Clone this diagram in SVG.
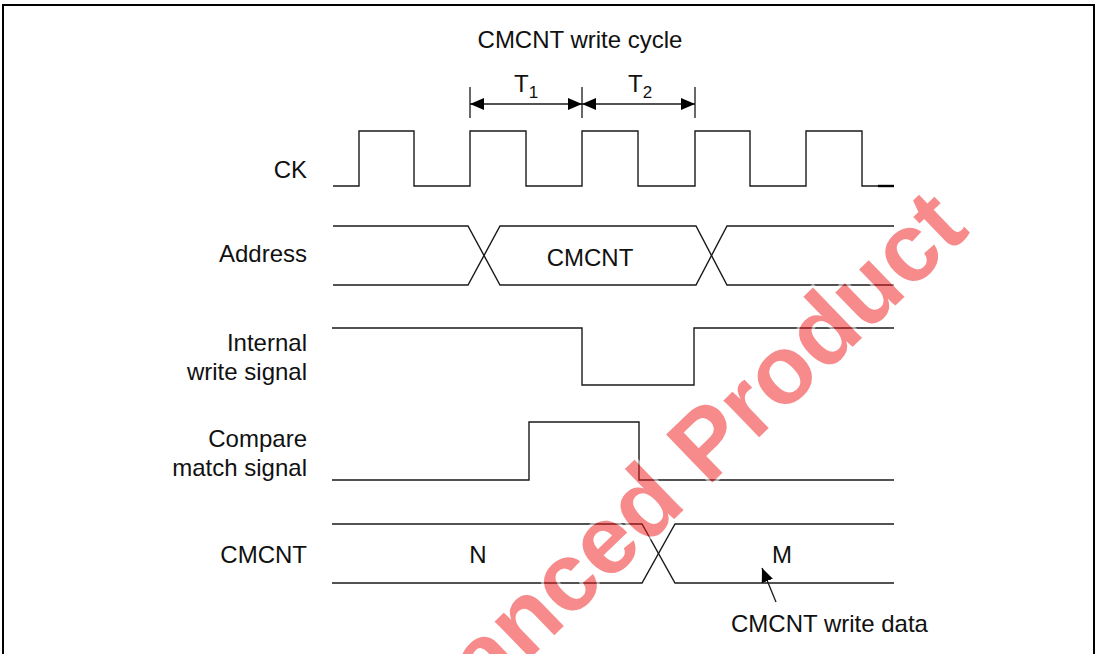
<svg xmlns="http://www.w3.org/2000/svg" width="1100" height="654" viewBox="0 0 1100 654">
<style>
  .sig { fill: none; stroke: #1a1a1a; stroke-width: 1.4; }
  .lbl { font-family: "Liberation Sans", Arial, sans-serif; font-size: 24px; fill: #111; }
  .r { text-anchor: end; }
  .m { text-anchor: middle; }
  .dim { fill: none; stroke: #1a1a1a; stroke-width: 1.3; }
  .wm { font-family: "Liberation Sans", Arial, sans-serif; font-weight: bold; font-size: 97px; fill: #f01818; stroke: #ffffff; stroke-width: 6; paint-order: stroke; }
</style>
<defs>
  <marker id="ah" viewBox="0 0 14 12" refX="14" refY="6" markerWidth="14" markerHeight="12" markerUnits="userSpaceOnUse" orient="auto-start-reverse">
    <path d="M0,0 L14,6 L0,12 Z" fill="#000"/>
  </marker>
</defs>
<rect x="0" y="0" width="1100" height="654" fill="#fff"/>
<rect id="frame" x="3" y="5" width="1091" height="720" fill="none" stroke="#000" stroke-width="2"/>

<text class="lbl m" x="580" y="48">CMCNT write cycle</text>

<g id="ck">
  <text class="lbl r" x="307" y="178">CK</text>
  <path class="sig" d="M333,186 H359 V131 H414 V186 H470 V131 H526 V186 H582 V131 H638 V186 H695 V131 H750 V186 H806 V131 H862 V186 H894"/>
  <path d="M878,186 H894" stroke="#000" stroke-width="2.4"/>
</g>

<g id="address">
  <text class="lbl r" x="307" y="262">Address</text>
  <path class="sig" d="M333,226 H468 L500,285 H696 L727,226 H894"/>
  <path class="sig" d="M333,285 H468 L500,226 H696 L727,285 H894"/>
  <text class="lbl m" x="590" y="266">CMCNT</text>
</g>

<g id="internal-write">
  <text class="lbl r" x="307" y="351">Internal</text>
  <text class="lbl r" x="307" y="380">write signal</text>
  <path class="sig" d="M332,328 H582 V385 H694 V328 H894"/>
</g>

<g id="compare-match">
  <text class="lbl r" x="307" y="447">Compare</text>
  <text class="lbl r" x="307" y="476">match signal</text>
  <path class="sig" d="M332,480 H529 V422 H639 V480 H894"/>
</g>

<g id="cmcnt">
  <text class="lbl r" x="307" y="563">CMCNT</text>
  <path class="sig" d="M332,524 H642 L675,583 H894"/>
  <path class="sig" d="M332,583 H642 L675,524 H894"/>
  <text class="lbl m" x="478" y="563">N</text>
  <text class="lbl m" x="782" y="563">M</text>
</g>

<g id="t1">
  <text class="lbl" x="514" y="92">T<tspan font-size="17" dy="6">1</tspan></text>
</g>
<g id="t2">
  <text class="lbl" x="628" y="92">T<tspan font-size="17" dy="6">2</tspan></text>
</g>
<g id="write-data-label">
  <text class="lbl" x="731" y="632">CMCNT write data</text>
</g>

<g id="connectors">
  <path class="dim" d="M470,87 V118 M582,87 V118 M695,87 V118"/>
  <path class="dim" d="M470,104 H582" marker-start="url(#ah)" marker-end="url(#ah)"/>
  <path class="dim" d="M582,104 H695" marker-start="url(#ah)" marker-end="url(#ah)"/>
  <path class="dim" d="M776,602 L762,568" marker-end="url(#ah)"/>
</g>

<g id="watermark" opacity="0.5">
  <text class="wm m" x="663" y="530" transform="rotate(-44 663 530)">Advanced Product</text>
</g>
</svg>
